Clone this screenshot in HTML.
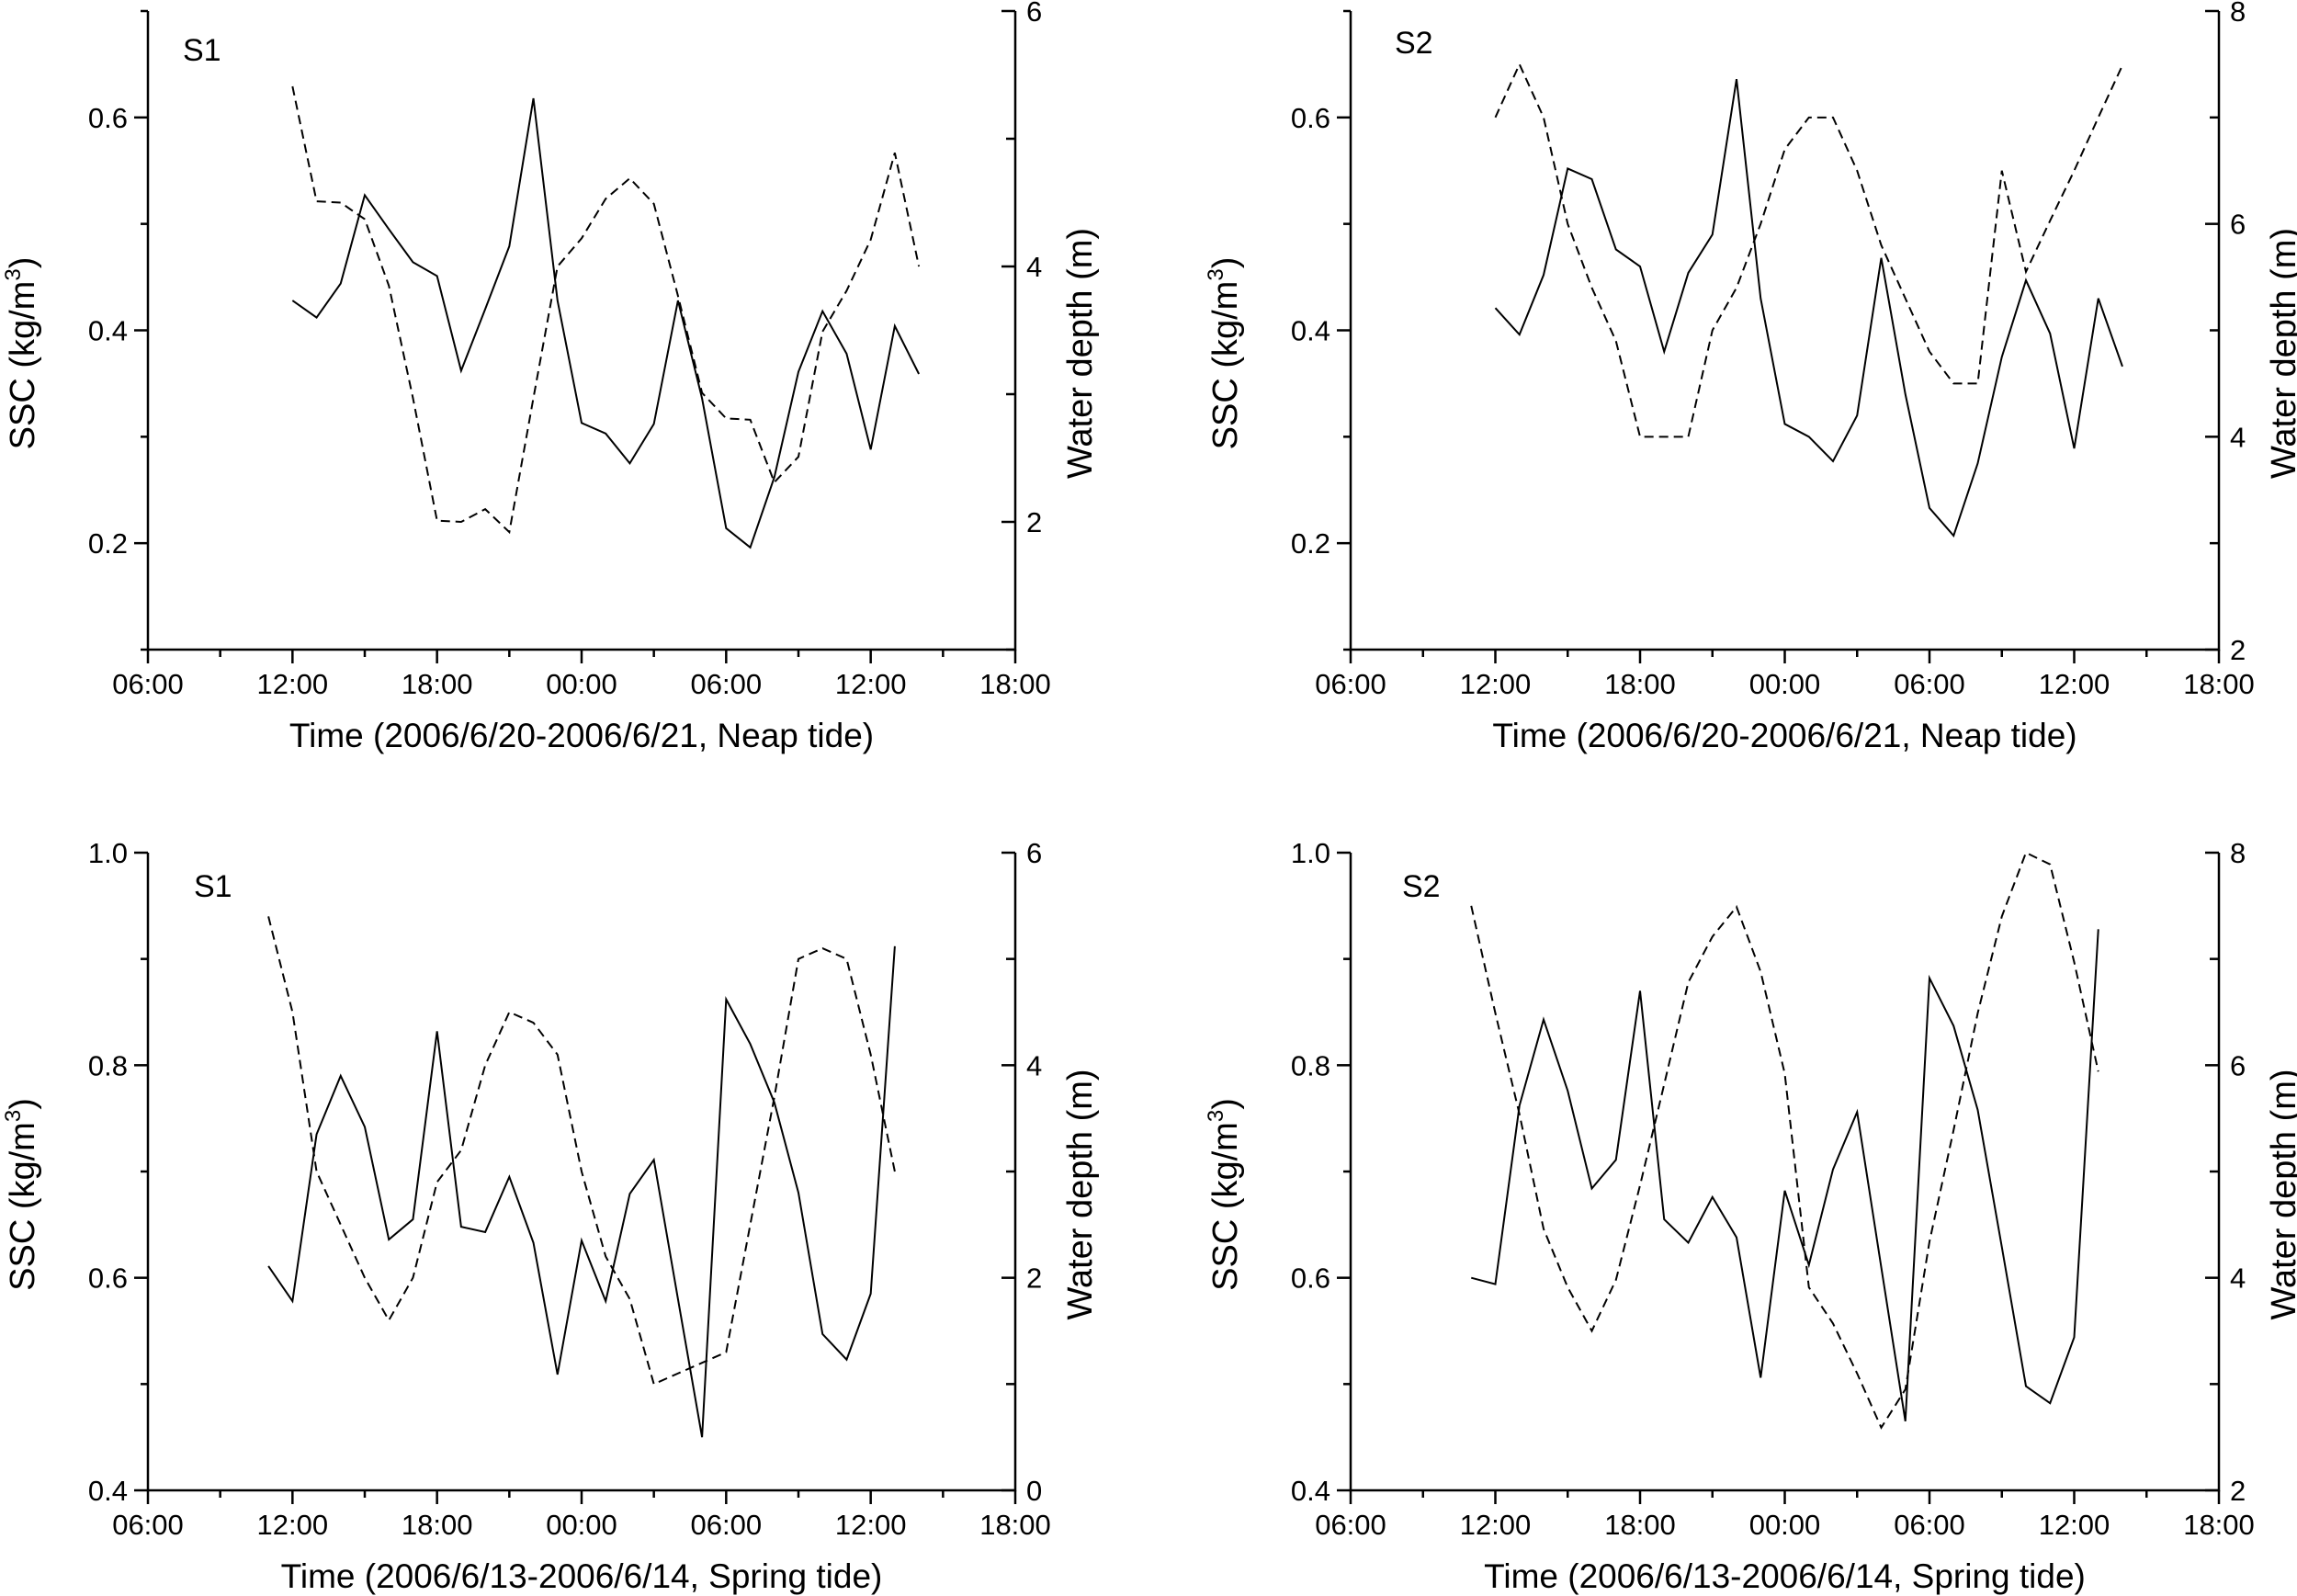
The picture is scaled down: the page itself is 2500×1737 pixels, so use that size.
<!DOCTYPE html>
<html><head><meta charset="utf-8"><style>
html,body{margin:0;padding:0;background:#fff;}
svg{display:block;}
text{font-family:"Liberation Sans",Arial,sans-serif;fill:#000;}
</style></head><body>
<svg id="chart" width="2500" height="1737" viewBox="0 0 2500 1737" xmlns="http://www.w3.org/2000/svg"></svg>
<script>
const xTickLabels = ["06:00","12:00","18:00","00:00","06:00","12:00","18:00"];
const s1NeapHours = [6,7,8,9,10,11,12,13,14,15,16,17,18,19,20,21,22,23,24,25,26,27,28,29,30,31,32];
const s1NeapSSC = [0.428,0.412,0.444,0.527,0.495,0.464,0.451,0.362,0.42,0.479,0.618,0.428,0.313,0.303,0.275,0.312,0.428,0.336,0.214,0.196,0.262,0.361,0.418,0.378,0.288,0.404,0.359];
const s1NeapDepth = [5.41,4.51,4.50,4.37,3.85,2.97,2.01,2.0,2.10,1.92,2.97,4.0,4.22,4.53,4.69,4.49,3.77,3.01,2.81,2.80,2.31,2.51,3.49,3.81,4.21,4.89,4.0];
const s2NeapHours = [6,7,8,9,10,11,12,13,14,15,16,17,18,19,20,21,22,23,24,25,26,27,28,29,30,31,32];
const s2NeapSSC = [0.421,0.396,0.452,0.552,0.542,0.476,0.46,0.38,0.454,0.49,0.636,0.43,0.312,0.30,0.277,0.32,0.468,0.34,0.233,0.207,0.275,0.375,0.447,0.397,0.289,0.43,0.366];
const s2NeapDepth = [7.0,7.5,7.0,6.0,5.4,4.9,4.0,4.0,4.0,5.0,5.4,6.0,6.7,7.0,7.0,6.5,5.8,5.3,4.8,4.5,4.5,6.5,5.55,6.03,6.5,7.0,7.49];
const s1SpringHours = [5,6,7,8,9,10,11,12,13,14,15,16,17,18,19,20,21,22,23,24,25,26,27,28,29,30,31];
const s1SpringSSC = [0.611,0.578,0.735,0.79,0.742,0.636,0.655,0.832,0.648,0.643,0.695,0.633,0.509,0.635,0.578,0.679,0.711,0.58,0.45,0.862,0.82,0.765,0.68,0.547,0.523,0.585,0.912];
const s1SpringDepth = [5.4,4.5,3.0,2.5,2.0,1.6,2.0,2.9,3.2,4.0,4.5,4.4,4.1,3.0,2.2,1.8,1.0,1.1,1.2,1.3,2.5,3.7,5.0,5.1,5.0,4.1,3.0];
const s2SpringHours = [5,6,7,8,9,10,11,12,13,14,15,16,17,18,19,20,21,22,23,24,25,26,27,28,29,30,31];
const s2SpringSSC = [0.60,0.594,0.762,0.843,0.776,0.684,0.711,0.87,0.655,0.633,0.676,0.638,0.506,0.682,0.612,0.702,0.756,0.61,0.465,0.882,0.837,0.758,0.629,0.498,0.482,0.544,0.928];
const s2SpringDepth = [7.5,6.49,5.54,4.46,3.91,3.5,3.98,4.87,5.82,6.78,7.21,7.49,6.88,5.92,3.91,3.57,3.1,2.59,2.95,4.34,5.39,6.49,7.4,8.0,7.89,6.97,5.94];

const NS="http://www.w3.org/2000/svg";
const svg=document.getElementById('chart');
function mk(tag,attrs,parent){const e=document.createElementNS(NS,tag);for(const k in attrs)e.setAttribute(k,attrs[k]);(parent||svg).appendChild(e);return e;}

function panel(cfg){
  const g=mk('g',{});
  
  
  const {x0,x1,y0,y1}=cfg;
  const xs=h=>x0+(x1-x0)*h/36;
  const yl=v=>y1-(y1-y0)*(v-cfg.lmin)/(cfg.lmax-cfg.lmin);
  const yr=v=>y1-(y1-y0)*(v-cfg.rmin)/(cfg.rmax-cfg.rmin);
  const ax=mk('path',{d:`M${x0},${y0}V${y1}H${x1}V${y0}`,fill:'none',stroke:'#000','stroke-width':2.5},g);
  
  
  for(let h=0;h<=36;h+=3){
    const major=h%6===0;
    mk('line',{x1:xs(h),x2:xs(h),y1:y1,y2:y1+(major?15:8),stroke:'#000','stroke-width':2.5},g);
    if(major){const t=mk('text',{x:xs(h),y:y1+48,'font-size':31,'text-anchor':'middle'},g);t.textContent=xTickLabels[h/6];
      
      }
  }
  for(let i=0;;i++){const v=+(cfg.lmin+i*0.1).toFixed(3); if(v>cfg.lmax+1e-9)break;
    const major=cfg.lLabels.some(l=>Math.abs(l-v)<1e-6); const y=yl(v);
    mk('line',{x1:x0,x2:x0-(major?15:8),y1:y,y2:y,stroke:'#000','stroke-width':2.5},g);
    if(major){const t=mk('text',{x:x0-22,y:y+11,'font-size':31,'text-anchor':'end'},g);t.textContent=v.toFixed(1);
      
      }
  }
  for(let v=cfg.rmin;v<=cfg.rmax+1e-9;v+=1){const y=yr(v);const major=(v-cfg.rlab0)%2===0;
    mk('line',{x1:x1,x2:x1-(major?15:10),y1:y,y2:y,stroke:'#000','stroke-width':2.5},g);
    if(major){const t=mk('text',{x:x1+12,y:y+11,'font-size':31},g);t.textContent=v;
      
      }
  }
  const sl=mk('polyline',{points:cfg.hours.map((h,i)=>xs(h)+','+yl(cfg.ssc[i])).join(' '),fill:'none',stroke:'#000','stroke-width':2},g);
  
  
  const dl=mk('polyline',{points:cfg.hours.map((h,i)=>xs(h)+','+yr(cfg.depth[i])).join(' '),fill:'none',stroke:'#000','stroke-width':2,'stroke-dasharray':'10,6'},g);
  
  
  const lab=mk('text',{x:x0+cfg.lx,y:y0+cfg.ly,'font-size':34},g);lab.textContent=cfg.label;
  
  
  const xt=mk('text',{x:(x0+x1)/2,y:y1+106,'font-size':37,'text-anchor':'middle'},g);xt.textContent=cfg.xtitle;
  
  
  const cy=(y0+y1)/2+25;
  const lt=mk('text',{x:0,y:0,'font-size':38,'text-anchor':'middle',transform:`translate(${x0-124},${cy}) rotate(-90)`},g);
  lt.innerHTML='SSC (kg/m<tspan font-size="24" dy="-15">3</tspan><tspan dy="15">)</tspan>';
  
  
  const rt=mk('text',{x:0,y:0,'font-size':38,'text-anchor':'middle',transform:`translate(${x1+83},${cy}) rotate(-90)`},g);
  rt.textContent='Water depth (m)';
  
  
}
const neap='Time (2006/6/20-2006/6/21, Neap tide)';
const spring='Time (2006/6/13-2006/6/14, Spring tide)';
panel({name:'panel-s1-neap',x0:161,x1:1105,y0:12,y1:707,lmin:0.1,lmax:0.7,lLabels:[0.2,0.4,0.6],rmin:1,rmax:6,rlab0:2,hours:s1NeapHours,ssc:s1NeapSSC,depth:s1NeapDepth,label:'S1',lx:38,ly:54,xtitle:neap});
panel({name:'panel-s2-neap',x0:1470,x1:2415,y0:12,y1:707,lmin:0.1,lmax:0.7,lLabels:[0.2,0.4,0.6],rmin:2,rmax:8,rlab0:2,hours:s2NeapHours,ssc:s2NeapSSC,depth:s2NeapDepth,label:'S2',lx:48,ly:46,xtitle:neap});
panel({name:'panel-s1-spring',x0:161,x1:1105,y0:928,y1:1622,lmin:0.4,lmax:1.0,lLabels:[0.4,0.6,0.8,1.0],rmin:0,rmax:6,rlab0:0,hours:s1SpringHours,ssc:s1SpringSSC,depth:s1SpringDepth,label:'S1',lx:50,ly:48,xtitle:spring});
panel({name:'panel-s2-spring',x0:1470,x1:2415,y0:928,y1:1622,lmin:0.4,lmax:1.0,lLabels:[0.4,0.6,0.8,1.0],rmin:2,rmax:8,rlab0:2,hours:s2SpringHours,ssc:s2SpringSSC,depth:s2SpringDepth,label:'S2',lx:56,ly:48,xtitle:spring});
</script>
</body></html>
